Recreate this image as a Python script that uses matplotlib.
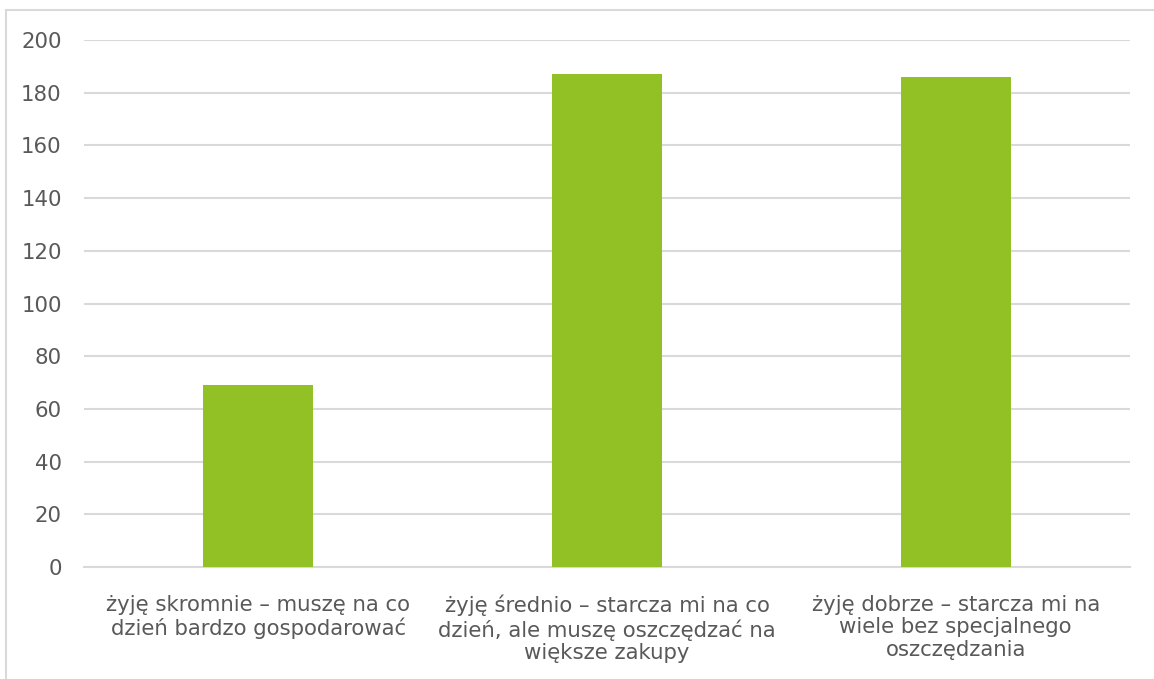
import matplotlib.pyplot as plt
from matplotlib.patches import Rectangle

categories = ['żyję skromnie – muszę na co\ndzień bardzo gospodarować',
              'żyję średnio – starcza mi na co\ndzień, ale muszę oszczędzać na\nwiększe zakupy',
              'żyję dobrze – starcza mi na\nwiele bez specjalnego\noszczędzania']
values = [69, 187, 186]
yticks = [0, 20, 40, 60, 80, 100, 120, 140, 160, 180, 200]

plt.rcParams['font.family'] = ['DejaVu Sans Condensed', 'DejaVu Sans']
grey = '#D9D9D9'
txt = '#595959'

fig = plt.figure(figsize=(11.54, 6.79), dpi=100)
ax = fig.add_axes([84/1154, 1 - 567/679, (1130 - 84)/1154, (567 - 40)/679])

x = range(len(values))
ax.bar(x, values, width=0.315, color='#92C125', zorder=3)

ax.set_xlim(-0.5, 2.5)
ax.set_ylim(0, 200)
ax.set_yticks(yticks)
ax.set_xticks(list(x))
ax.set_xticklabels(categories, fontsize=15.3, color=txt, linespacing=1.17)
ax.tick_params(axis='y', labelsize=15.3, labelcolor=txt, length=0, pad=16)
ax.tick_params(axis='x', length=0, pad=20)
ax.grid(axis='y', color=grey, linewidth=1.5, zorder=0)
for s in ['top', 'right', 'left']:
    ax.spines[s].set_visible(False)
ax.spines['bottom'].set_color(grey)
ax.spines['bottom'].set_linewidth(1.5)

# chart frame (extends past right and bottom edges)
fig.patches.append(Rectangle((6/1154, -0.1), 1.2, 1.1 - 10/679, transform=fig.transFigure,
                             fill=False, edgecolor=grey, linewidth=1.5))

fig.savefig('out.png', dpi=100)
